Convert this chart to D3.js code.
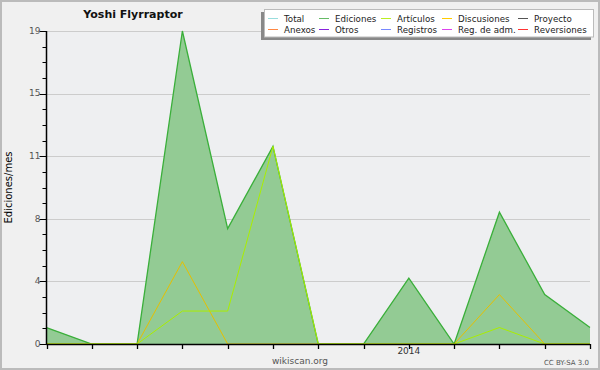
<!DOCTYPE html>
<html>
<head>
<meta charset="utf-8">
<script src="https://cdn.jsdelivr.net/npm/d3@7"></script>
<style>
  body { margin: 0; background: #fff; }
  svg text { font-family: "DejaVu Sans", sans-serif; }
</style>
</head>
<body>
<div id="chart"></div>
<script>
// months shown on the x axis (May 2013 .. May 2014)
const months = ["2013-05", "2013-06", "2013-07", "2013-08", "2013-09", "2013-10", "2013-11",
  "2013-12", "2014-01", "2014-02", "2014-03", "2014-04", "2014-05"];
const ediciones = [1, 0, 0, 19, 7, 12, 0, 0, 4, 0, 8, 3, 1];
const articulos = [0, 0, 0, 2, 2, 12, 0, 0, 0, 0, 1, 0, 0];
const discusiones = [0, 0, 0, 5, 0, 0, 0, 0, 0, 0, 3, 0, 0];
const yMax = 19;
const yTickCount = 5;

const legendNames = ["Total", "Ediciones", "Artículos", "Discusiones", "Proyecto",
  "Anexos", "Otros", "Registros", "Reg. de adm.", "Reversiones"];
const legendColors = ["#99dddd", "#66bb66", "#bbee22", "#ffcc00", "#555555",
  "#ff8844", "#8822dd", "#7788ff", "#dd44ee", "#ff3333"];

const W = 600, H = 370;
const m = {left: 46.5, right: 10, top: 31, bottom: 26};

const svg = d3.select("#chart").append("svg")
  .attr("width", W)
  .attr("height", H);

// frame
svg.append("rect")
  .attr("x", 1).attr("y", 1)
  .attr("width", W - 2).attr("height", H - 2)
  .attr("fill", "#f0f0f0")
  .attr("stroke", "#bbbbbb")
  .attr("stroke-width", 2);

const x = d3.scaleLinear().domain([0, months.length - 1]).range([m.left, W - m.right]);
const y = d3.scaleLinear().domain([0, yMax]).range([H - m.bottom, m.top]);

// plot background
svg.append("rect")
  .attr("x", m.left).attr("y", m.top)
  .attr("width", W - m.right - m.left).attr("height", H - m.bottom - m.top)
  .attr("fill", "#eeeff1");

// grid + y ticks
const majors = d3.range(yTickCount + 1).map(i => yMax * i / yTickCount);
const minors = d3.range(yTickCount * 4 + 1).map(i => yMax * i / (yTickCount * 4));

svg.append("g").selectAll("line").data(majors.slice(1)).join("line")
  .attr("x1", m.left).attr("x2", W - m.right)
  .attr("y1", d => Math.round(y(d)) + 0.5).attr("y2", d => Math.round(y(d)) + 0.5)
  .attr("stroke", "#cccccc");

// series
const area = d3.area().x((d, i) => x(i)).y0(y(0)).y1(d => y(d));
const line = d3.line().x((d, i) => x(i)).y(d => y(d));

svg.append("path").datum(ediciones)
  .attr("d", area)
  .attr("fill", "#93cb94");
svg.append("path").datum(ediciones)
  .attr("d", line)
  .attr("fill", "none")
  .attr("stroke", "#3aaf3a")
  .attr("stroke-width", 1.3);
svg.append("path").datum(discusiones)
  .attr("d", line)
  .attr("fill", "none")
  .attr("stroke", "#e6c000")
  .attr("stroke-width", 1);
svg.append("path").datum(articulos)
  .attr("d", line)
  .attr("fill", "none")
  .attr("stroke", "#aaee00")
  .attr("stroke-width", 1);

// y axis
const yAxis = svg.append("g");
yAxis.append("line")
  .attr("x1", m.left).attr("x2", m.left)
  .attr("y1", y(yMax)).attr("y2", y(0) + 0.5)
  .attr("stroke", "#000").attr("stroke-width", 1.5);
yAxis.selectAll("line.minor").data(minors).join("line")
  .attr("class", "minor")
  .attr("x1", m.left - 4).attr("x2", m.left)
  .attr("y1", d => Math.round(y(d)) + 0.5).attr("y2", d => Math.round(y(d)) + 0.5)
  .attr("stroke", "#000");
yAxis.selectAll("line.major").data(majors).join("line")
  .attr("class", "major")
  .attr("x1", m.left - 7).attr("x2", m.left)
  .attr("y1", d => Math.round(y(d)) + 0.5).attr("y2", d => Math.round(y(d)) + 0.5)
  .attr("stroke", "#000");
yAxis.selectAll("text").data(majors).join("text")
  .attr("x", m.left - 6).attr("y", d => y(d))
  .attr("dy", "0.3em")
  .attr("text-anchor", "end")
  .attr("font-size", 9)
  .attr("fill", "#555")
  .text(d => Math.round(d));

// x axis
const xAxis = svg.append("g");
xAxis.append("line")
  .attr("x1", m.left).attr("x2", W - m.right)
  .attr("y1", y(0) + 0.5).attr("y2", y(0) + 0.5)
  .attr("stroke", "#000").attr("stroke-width", 1.5);
xAxis.selectAll("line.tick").data(months).join("line")
  .attr("class", "tick")
  .attr("x1", (d, i) => Math.round(x(i)) + 0.5).attr("x2", (d, i) => Math.round(x(i)) + 0.5)
  .attr("y1", y(0)).attr("y2", y(0) + 5)
  .attr("stroke", "#000").attr("stroke-width", 1.3);
xAxis.selectAll("text").data(months.filter(d => d.endsWith("-01"))).join("text")
  .attr("x", d => x(months.indexOf(d)))
  .attr("y", y(0) + 10)
  .attr("text-anchor", "middle")
  .attr("font-size", 9)
  .attr("fill", "#333")
  .text(d => d.slice(0, 4));

// axis title
svg.append("text")
  .attr("transform", `translate(12,${(y(0) + y(yMax)) / 2}) rotate(-90)`)
  .attr("text-anchor", "middle")
  .attr("font-size", 10)
  .attr("fill", "#000")
  .text("Ediciones/mes");

// title
svg.append("text")
  .attr("x", 133).attr("y", 18)
  .attr("text-anchor", "middle")
  .attr("font-size", 11)
  .attr("font-weight", "bold")
  .attr("fill", "#111")
  .text("Yoshi Flyrraptor");

// legend
const lg = svg.append("g");
lg.append("rect").attr("x", 261).attr("y", 12).attr("width", 330).attr("height", 28).attr("fill", "#888");
lg.append("rect").attr("x", 264.5).attr("y", 9.5).attr("width", 329).attr("height", 27.5)
  .attr("fill", "#fff").attr("stroke", "#bbb");
const colX = [268, 319, 381, 442, 518];
const rowY = [19, 30];
legendNames.forEach((name, i) => {
  const cx = colX[i % 5], cy = rowY[Math.floor(i / 5)];
  lg.append("line")
    .attr("x1", cx).attr("x2", cx + 10)
    .attr("y1", cy - 0.5).attr("y2", cy - 0.5)
    .attr("stroke", legendColors[i]);
  lg.append("text")
    .attr("x", cx + 16).attr("y", cy + 3)
    .attr("font-size", 8.7)
    .attr("fill", "#222")
    .text(name);
});

// credits
svg.append("text")
  .attr("x", 300).attr("y", 364)
  .attr("text-anchor", "middle")
  .attr("font-size", 9)
  .attr("fill", "#555")
  .text("wikiscan.org");
svg.append("text")
  .attr("x", 589).attr("y", 365)
  .attr("text-anchor", "end")
  .attr("font-size", 7)
  .attr("fill", "#555")
  .text("CC BY-SA 3.0");
</script>
</body>
</html>
